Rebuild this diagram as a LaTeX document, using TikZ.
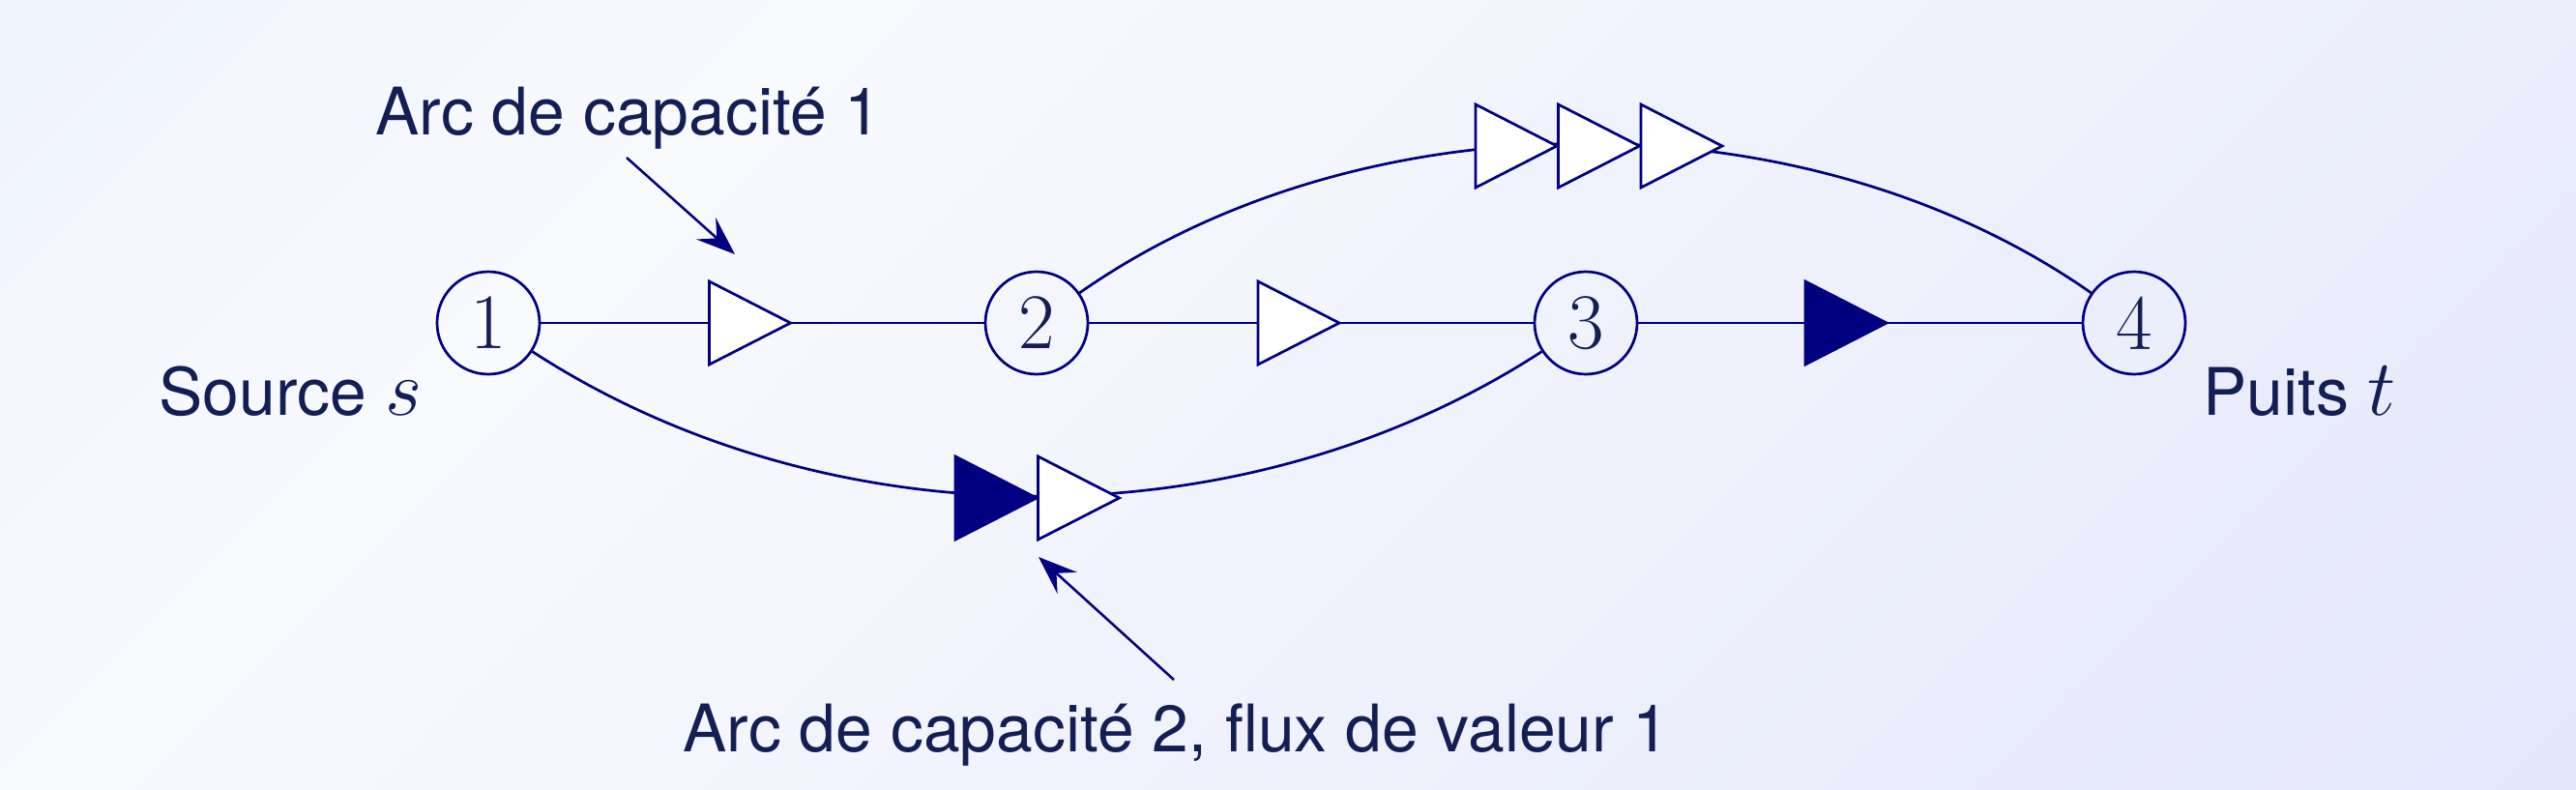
\RequirePackage{fix-cm}
\documentclass[tikz,border=0pt]{standalone}
\usepackage[no-math]{fontspec}
\setsansfont{TeX Gyre Heros}
\usetikzlibrary{arrows.meta}
\definecolor{navy}{RGB}{0,0,128}
\definecolor{textc}{HTML}{131E54}
\definecolor{bgA}{HTML}{EFF3FD}
\definecolor{bgB}{HTML}{F9FAFE}
\definecolor{bgC}{HTML}{E4E7FA}
\tikzset{
  vertex/.style={circle, draw=navy, line width=0.77pt, minimum size=1.06cm, inner sep=0pt,
    text=textc, font=\rmfamily\fontsize{23.2}{28}\selectfont},
  edge/.style={draw=navy, line width=0.77pt},
  lab/.style={text=textc, font=\sffamily\fontsize{19.3}{23}\selectfont, inner sep=0pt, anchor=base west},
  ptr/.style={draw=navy, line width=0.72pt, -{Stealth[length=0.4cm,width=0.3cm,inset=0.15cm]}},
  openarr/.pic={\draw[navy, line width=0.77pt, fill=white, line join=miter] (0,-0.43) -- (0.84,0) -- (0,0.43) -- cycle;},
  fullarr/.pic={\draw[navy, line width=0.77pt, fill=navy, line join=miter] (0,-0.43) -- (0.84,0) -- (0,0.43) -- cycle;},
}
\newcommand{\mathbig}[1]{{\fontsize{23.4}{28}\selectfont$#1$}}
\begin{document}
\begin{tikzpicture}
\useasboundingbox (0,0) rectangle (26.64,8.16);
% background gradient (iso-lines at 45 degrees)
\begin{scope}
  \clip (0,0) rectangle (26.64,8.16);
  \foreach \i in {0,...,69}{
    \pgfmathsetmacro{\myS}{\i*0.5}
    \pgfmathsetmacro{\myt}{(\myS+0.25)/34.8}
    \ifdim \myt pt < 0.25pt
      \pgfmathsetmacro{\myp}{100*\myt/0.25}
      \colorlet{stripc}{bgB!\myp!bgA}
    \else
      \pgfmathsetmacro{\myp}{100*(\myt-0.25)/0.75}
      \colorlet{stripc}{bgC!\myp!bgB}
    \fi
    \fill[stripc] (\myS-9.16,-1) -- (\myS+1.04,9.2) -- (28,9.2) -- (28,-1) -- cycle;
  }
\end{scope}
% vertices
\node[vertex] (n1) at (5.05,4.82) {1};
\node[vertex] (n2) at (10.72,4.82) {2};
\node[vertex] (n3) at (16.40,4.82) {3};
\node[vertex] (n4) at (22.07,4.82) {4};
% edges
\draw[edge] (n1) -- (n2);
\draw[edge] (n2) -- (n3);
\draw[edge] (n3) -- (n4);
\draw[edge] (n2) to[out=35,in=145,looseness=0.88] (n4);
\draw[edge] (n1) to[out=-33,in=-147,looseness=0.9] (n3);
% capacity / flow marks
\pic at (7.335,4.82) {openarr};
\pic at (13.01,4.82) {openarr};
\pic at (18.67,4.82) {fullarr};
\pic at (15.26,6.65) {openarr};
\pic at (16.115,6.65) {openarr};
\pic at (16.97,6.65) {openarr};
\pic at (9.88,3.01) {fullarr};
\pic at (10.735,3.01) {openarr};
% labels
\node[lab] (lcap1) at (3.88,6.77) {Arc de capacité 1};
\node[lab] (lsrc) at (1.64,3.87) {Source \mathbig{s}};
\node[lab] (lsink) at (22.78,3.87) {Puits \mathbig{t}};
\node[lab] (lcap2) at (7.06,0.39) {Arc de capacité 2, flux de valeur 1};
% pointers
\coordinate (p1s) at (6.48,6.53);
\coordinate (p1e) at (7.60,5.53);
\coordinate (p2s) at (12.14,1.13);
\coordinate (p2e) at (10.74,2.40);
\draw[ptr] (p1s) -- (p1e);
\draw[ptr] (p2s) -- (p2e);
\end{tikzpicture}
\end{document}
